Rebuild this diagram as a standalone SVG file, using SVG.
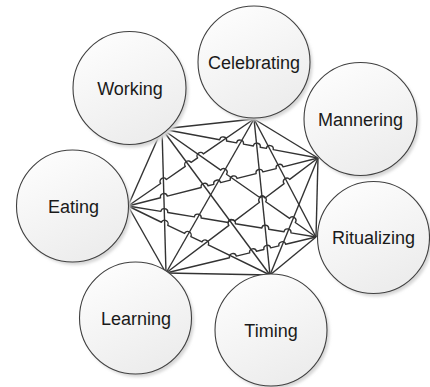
<svg xmlns="http://www.w3.org/2000/svg" width="430" height="387" viewBox="0 0 430 387">
<defs>
<linearGradient id="g" x1="0" y1="0" x2="0.5" y2="1">
<stop offset="0" stop-color="#ffffff"/>
<stop offset="1" stop-color="#ededed"/>
</linearGradient>
<filter id="sh" x="-20%" y="-20%" width="140%" height="140%">
<feGaussianBlur stdDeviation="1.5"/>
</filter>
</defs>
<style>
.c{fill:url(#g);stroke:#404040;stroke-width:1.1}
.s{fill:#d6d6d6;filter:url(#sh)}
.t{font-family:"Liberation Sans",Arial,sans-serif;font-size:18px;fill:#1a1a1a;text-anchor:middle}
#connectors path{fill:none;stroke:#333333;stroke-width:1.4;stroke-linejoin:round}
</style>
<rect width="430" height="387" fill="#ffffff"/>
<g id="connectors">
<path d="M162,129 L254,119"/>
<path d="M254,119 L318,158"/>
<path d="M318,158 L316,237"/>
<path d="M316,237 L270,275"/>
<path d="M270,275 L166,273"/>
<path d="M166,273 L128,206"/>
<path d="M128,206 L162,129"/>
<path d="M254,119 L316,237"/>
<path d="M318,158 L270,275"/>
<path d="M162,129 L166,273"/>
<path d="M254,119 L270,275"/>
<path d="M162,129 L270,275"/>
<path d="M254,119 L166,273"/>
<path d="M162,129 L219.66,139.72 A3.5,3.5 0 0 1 226.54,141 L236.56,142.86 A3.5,3.5 0 0 1 243.44,144.14 L253.36,145.98 A3.5,3.5 0 0 1 260.24,147.26 L266.36,148.4 A3.5,3.5 0 0 1 273.24,149.68 L318,158"/>
<path d="M162,129 L220.74,170.19 A3.5,3.5 0 0 1 226.47,174.21 L259.38,197.29 A3.9,3.9 0 0 1 265.72,201.74 L289.54,218.44 A3.5,3.5 0 0 1 295.27,222.46 L316,237"/>
<path d="M128,206 L160.62,183.48 A3.5,3.5 0 0 1 166.38,179.5 L185.32,166.42 A3.5,3.5 0 0 1 191.08,162.44 L197.62,157.93 A3.5,3.5 0 0 1 203.38,153.95 L254,119"/>
<path d="M128,206 L160.51,197.79 A3.5,3.5 0 0 1 167.29,196.07 L201.21,187.51 A3.5,3.5 0 0 1 207.99,185.79 L213.81,184.33 A3.5,3.5 0 0 1 220.59,182.61 L230.31,180.16 A3.5,3.5 0 0 1 237.09,178.44 L256.11,173.64 A3.5,3.5 0 0 1 262.89,171.92 L276.21,168.57 A3.5,3.5 0 0 1 282.99,166.85 L318,158"/>
<path d="M128,206 L160.85,211.42 A3.5,3.5 0 0 1 167.75,212.56 L194.25,216.92 A3.5,3.5 0 0 1 201.15,218.06 L228.15,222.51 A3.65,3.65 0 0 1 235.35,223.7 L261.75,228.05 A3.5,3.5 0 0 1 268.65,229.19 L284.05,231.73 A3.5,3.5 0 0 1 290.95,232.87 L316,237"/>
<path d="M128,206 L161.45,222.25 A3.5,3.5 0 0 1 167.75,225.31 L184.55,233.48 A3.5,3.5 0 0 1 190.85,236.54 L201.95,241.93 A3.5,3.5 0 0 1 208.25,244.99 L270,275"/>
<path d="M166,273 L229.5,257.76 A3.5,3.5 0 0 1 236.3,256.12 L249.7,252.92 A3.5,3.5 0 0 1 256.5,251.28 L263.9,249.51 A3.5,3.5 0 0 1 270.7,247.87 L278.9,245.91 A3.5,3.5 0 0 1 285.7,244.27 L316,237"/>
<path d="M166,273 L228.91,225.4 A3.5,3.5 0 0 1 234.49,221.18 L259.51,202.25 A3.5,3.5 0 0 1 265.09,198.03 L284.11,183.64 A3.5,3.5 0 0 1 289.69,179.42 L318,158"/>
</g>
<g id="working"><circle class="s" cx="132" cy="91" r="56.5"/><circle class="c" cx="129.5" cy="88" r="56.5"/><text class="t" x="130" y="94.5">Working</text></g>
<g id="celebrating"><circle class="s" cx="256.5" cy="65" r="56"/><circle class="c" cx="254" cy="62" r="56"/><text class="t" x="254" y="68.5">Celebrating</text></g>
<g id="mannering"><circle class="s" cx="363" cy="122" r="56.5"/><circle class="c" cx="360.5" cy="119" r="56.5"/><text class="t" x="360.5" y="125.5">Mannering</text></g>
<g id="ritualizing"><circle class="s" cx="376" cy="240.5" r="56"/><circle class="c" cx="373.5" cy="237.5" r="56"/><text class="t" x="373.5" y="244">Ritualizing</text></g>
<g id="timing"><circle class="s" cx="273.5" cy="333" r="56"/><circle class="c" cx="271" cy="330" r="56"/><text class="t" x="271" y="337">Timing</text></g>
<g id="learning"><circle class="s" cx="138" cy="321" r="56"/><circle class="c" cx="135.5" cy="318" r="56"/><text class="t" x="136" y="325">Learning</text></g>
<g id="eating"><circle class="s" cx="75" cy="209" r="56"/><circle class="c" cx="72.5" cy="206" r="56"/><text class="t" x="73.5" y="213">Eating</text></g>
</svg>
